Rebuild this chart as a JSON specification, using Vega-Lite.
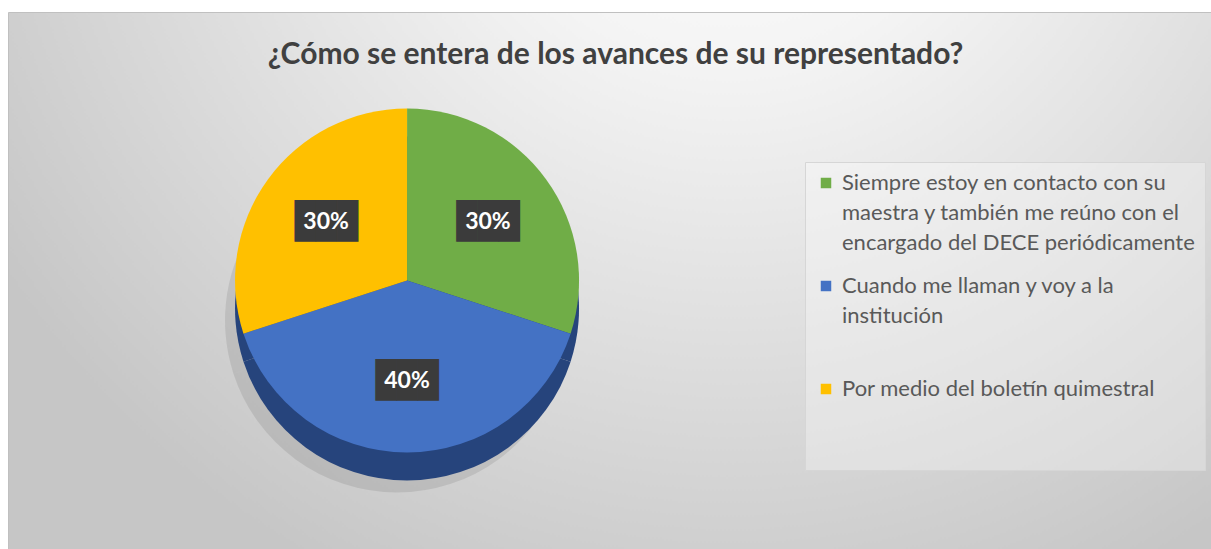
{
  "$schema": "https://vega.github.io/schema/vega-lite/v6.json",
  "width": 1203,
  "height": 537,
  "autosize": {"type": "none"},
  "padding": {"left": 8, "top": 12, "right": 0, "bottom": 0},
  "background": "white",
  "title": {
    "text": "¿Cómo se entera de los avances de su representado?",
    "font": "Lato",
    "fontSize": 30,
    "fontWeight": "bold",
    "color": "#404040",
    "anchor": "middle",
    "offset": -58,
    "dx": 6
  },
  "data": {
    "values": [
      {"Respuesta": "Siempre estoy en contacto con su maestra y también me reúno con el encargado del DECE periódicamente", "valor": 0.3, "orden": 1},
      {"Respuesta": "Cuando me llaman y voy a la institución", "valor": 0.4, "orden": 2},
      {"Respuesta": "Por medio del boletín quimestral", "valor": 0.3, "orden": 3}
    ]
  },
  "encoding": {
    "x": {"datum": 0.3317, "type": "quantitative", "scale": {"domain": [0, 1]}, "axis": null},
    "y": {"datum": 0.5, "type": "quantitative", "scale": {"domain": [0, 1]}, "axis": null},
    "theta": {"field": "valor", "type": "quantitative", "stack": true},
    "order": {"field": "orden", "type": "quantitative"}
  },
  "layer": [
    {
      "mark": {"type": "arc", "outerRadius": 172, "yOffset": 40, "xOffset": -10, "color": "#000000", "opacity": 0.09}
    },
    {
      "mark": {"type": "arc", "outerRadius": 172, "yOffset": 28, "color": "#26447C"}
    },
    {
      "mark": {"type": "arc", "outerRadius": 172},
      "encoding": {
        "color": {
          "field": "Respuesta",
          "type": "nominal",
          "scale": {
            "domain": ["Siempre estoy en contacto con su maestra y también me reúno con el encargado del DECE periódicamente", "Cuando me llaman y voy a la institución", "Por medio del boletín quimestral"],
            "range": ["#70AD47", "#4472C4", "#FFC000"]
          },
          "legend": {
            "orient": "none",
            "legendX": 797,
            "legendY": 150,
            "title": null,
            "symbolType": "square",
            "symbolSize": 110,
            "symbolStrokeWidth": 0,
            "labelFont": "Lato",
            "labelFontSize": 22,
            "labelColor": "#595959",
            "labelLimit": 420,
            "labelBaseline": "top",
            "labelOffset": 5,
            "padding": 10,
            "rowPadding": 21,
            "fillColor": "rgba(255,255,255,0.3)",
            "strokeColor": "#d6d6d6",
            "labelExpr": "indexof(datum.label, 'Siempre') == 0 ? ['Siempre estoy en contacto con su', 'maestra y también me reúno con el', 'encargado del DECE periódicamente'] : indexof(datum.label, 'Cuando') == 0 ? ['Cuando me llaman y voy a la', 'institución', ''] : ['Por medio del boletín quimestral', '', '']",
            "encode": {
              "labels": {"update": {"lineHeight": {"value": 30}, "dy": {"value": -10}}}
            }
          }
        }
      }
    },
    {
      "mark": {"type": "text", "radius": 100, "font": "DejaVu Sans Mono", "fontSize": 35, "color": "#3b3b3b", "baseline": "middle"},
      "encoding": {"text": {"value": "███"}}
    },
    {
      "mark": {"type": "text", "radius": 100, "font": "Lato", "fontSize": 23, "fontWeight": "bold", "color": "white", "baseline": "middle"},
      "encoding": {"text": {"field": "valor", "type": "quantitative", "format": ".0%"}}
    }
  ],
  "config": {
    "view": {
      "fill": {
        "gradient": "radial",
        "x1": 0.6, "y1": 0.1, "r1": 0,
        "x2": 0.6, "y2": 0.1, "r2": 0.72,
        "stops": [
          {"offset": 0, "color": "#ffffff"},
          {"offset": 0.3, "color": "#f4f4f4"},
          {"offset": 1, "color": "#c6c6c6"}
        ]
      },
      "stroke": "#c0c0c0"
    }
  }
}
